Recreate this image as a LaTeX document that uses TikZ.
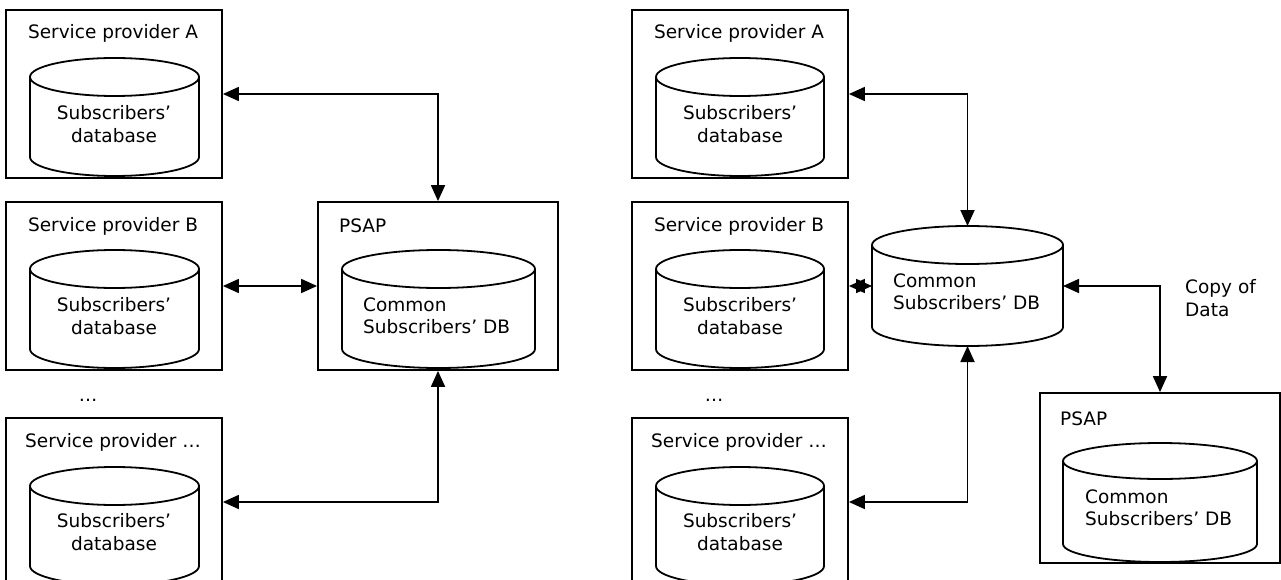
\documentclass[tikz,border=0pt]{standalone}
\usepackage{fontspec}
\setmainfont{DejaVu Sans}
\usetikzlibrary{arrows.meta}
\newcommand{\dbcyl}[5]{%
  \draw[ln] (#1,#3) ellipse [x radius=#2pt, y radius=#5pt];
  \draw[ln] ({#1-#2},#3) -- ({#1-#2},#4) arc[start angle=180, end angle=360, x radius=#2pt, y radius=#5pt] -- ({#1+#2},#3);
}
\begin{document}
\begin{tikzpicture}[x=1pt,y=-1pt,
  ln/.style={line width=1.8pt},
  box/.style={draw, line width=1.8pt, rectangle, inner sep=0pt},
  lbl/.style={font=\fontsize{18.5}{22.5}\selectfont, inner sep=0pt},
  arr/.style={line width=1.8pt, {Triangle[length=16pt,width=14pt]}-{Triangle[length=16pt,width=14pt]}},
  hole/.style={rectangle, inner sep=0pt, outer sep=0pt}]
\useasboundingbox (0,0) rectangle (1281,580);
\clip (0,0) rectangle (1281,580);
\fill[white] (0,0) rectangle (1281,580);

% ---------------- left diagram ----------------
\node[box, minimum width=216pt, minimum height=168pt] (spA) at (114,94) {};
\node[box, minimum width=216pt, minimum height=168pt] (spB) at (114,286) {};
\node[box, minimum width=216pt, minimum height=168pt] (spC) at (114,502) {};
\node[box, minimum width=240pt, minimum height=168pt] (psap) at (438,286) {};

\dbcyl{114.5}{84.5}{77}{157}{19}
\dbcyl{114.5}{84.5}{269}{349}{19}
\dbcyl{114.5}{84.5}{486}{566}{19}
\dbcyl{438.5}{96.5}{269}{349}{19}

\node[lbl] (tA) at (113,33) {Service provider A};
\node[lbl] (tB) at (113,226) {Service provider B};
\node[lbl] (tC) at (113,442) {Service provider …};
\node[lbl] (dots) at (88,400) {…};
\node[lbl, align=center] (dA) at (114,124) {Subscribers’\\database};
\node[lbl, align=center] (dB) at (114,316) {Subscribers’\\database};
\node[lbl, align=center] (dC) at (114,532) {Subscribers’\\database};
\node[lbl, anchor=west] (tP) at (339,226) {PSAP};
\node[lbl, anchor=west, align=left] (dP) at (363,316) {Common\\Subscribers’ DB};

\draw[arr] (psap.north) |- (spA.east);
\draw[arr] (spB.east) -- (psap.west);
\draw[arr] (psap.south) |- (spC.east);

% ---------------- right diagram ----------------
\node[box, minimum width=216pt, minimum height=168pt] (spA2) at (740,94) {};
\node[box, minimum width=216pt, minimum height=168pt] (spB2) at (740,286) {};
\node[box, minimum width=216pt, minimum height=168pt] (spC2) at (740,502) {};
\node[box, minimum width=240pt, minimum height=170pt] (psap2) at (1160,478) {};
\node[hole, minimum width=191pt, minimum height=120pt] (cdb) at (967.5,286) {};

\dbcyl{740}{84}{77}{157}{19}
\dbcyl{740}{84}{269}{349}{19}
\dbcyl{740}{84}{486}{566}{19}
\dbcyl{967.5}{95.5}{245}{327}{19}
\dbcyl{1160}{97}{461}{544}{18}

\node[lbl] (tA2) at (739,33) {Service provider A};
\node[lbl] (tB2) at (739,226) {Service provider B};
\node[lbl] (tC2) at (739,442) {Service provider …};
\node[lbl] (dots2) at (714,400) {…};
\node[lbl, align=center] (dA2) at (740,124) {Subscribers’\\database};
\node[lbl, align=center] (dB2) at (740,316) {Subscribers’\\database};
\node[lbl, align=center] (dC2) at (740,532) {Subscribers’\\database};
\node[lbl, anchor=west, align=left] (dCdb) at (893,292) {Common\\Subscribers’ DB};
\node[lbl, anchor=west] (tP2) at (1060,419) {PSAP};
\node[lbl, anchor=west, align=left] (dP2) at (1085,508) {Common\\Subscribers’ DB};
\node[lbl, anchor=west, align=left] (copy) at (1185,298) {Copy of\\Data};

\draw[arr] (cdb.north) |- (spA2.east);
\draw[arr] (spB2.east) -- (cdb.west);
\draw[arr] (cdb.south) |- (spC2.east);
\draw[arr] (cdb.east) -| (psap2.north);
\end{tikzpicture}
\end{document}
